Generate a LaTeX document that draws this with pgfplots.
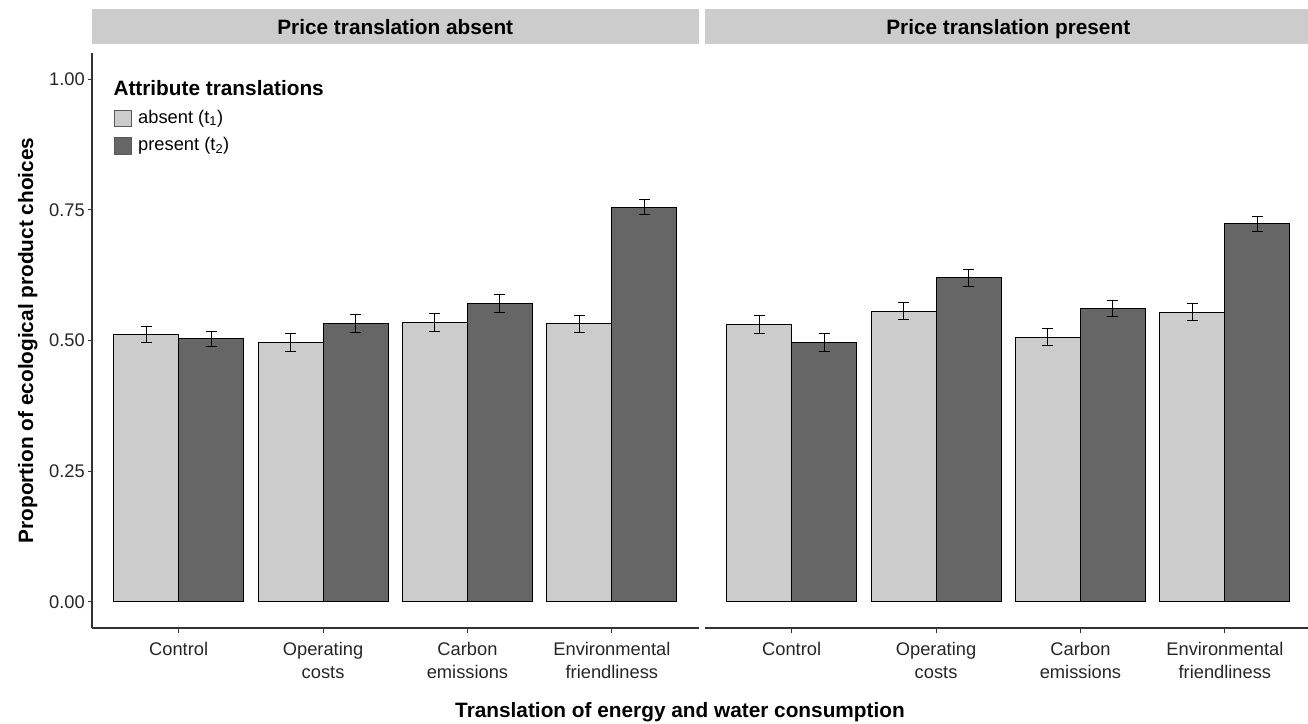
\documentclass[border=0pt]{standalone}
\usepackage{pgfplots}
\pgfplotsset{compat=1.18}
\usepackage{pgfplotstable}
\usepackage{fontspec}
\setmainfont{Liberation Sans}
\definecolor{lightbar}{HTML}{CCCCCC}
\definecolor{darkbar}{HTML}{666666}
\definecolor{ticktext}{HTML}{262626}
\definecolor{stripfill}{HTML}{CCCCCC}
\definecolor{axisline}{HTML}{333333}

% Price translation absent
\pgfplotstableread{
x light lerr dark derr
1 0.512 0.0155 0.503 0.015
2 0.496 0.0170 0.532 0.0175
3 0.534 0.0167 0.571 0.0170
4 0.532 0.0160 0.755 0.0140
}\tabAbsent
% Price translation present
\pgfplotstableread{
x light lerr dark derr
1 0.531 0.0170 0.496 0.0170
2 0.556 0.0165 0.620 0.0160
3 0.506 0.0160 0.561 0.0160
4 0.554 0.0160 0.723 0.0145
}\tabPresent

\newcommand{\tickfont}{\fontsize{18.3}{23}\selectfont}
\newcommand{\titlefont}{\fontsize{20.8}{25}\selectfont\bfseries}
\newcommand{\twoline}[2]{\begin{tabular}[t]{@{}c@{}}#1\\#2\end{tabular}}

\pgfplotsset{
  panel/.style={
    scale only axis, width=606.5pt, height=575pt,
    xmin=0.4, xmax=4.6, ymin=-0.05, ymax=1.05,
    ybar, bar width=0.45,
    axis x line*=bottom,
    axis line style={-, axisline, line width=1.1pt},
    xtick={1,2,3,4},
    xticklabels={Control,{\twoline{Operating}{costs}},{\twoline{Carbon}{emissions}},{\twoline{Environmental}{friendliness}}},
    tick align=outside, major tick length=4.5pt,
    tick style={axisline, line width=1.1pt},
    ticklabel style={font=\tickfont, text=ticktext},
    xticklabel style={anchor=base, inner sep=0pt, yshift=-22.5pt},
    yticklabel style={inner xsep=2.5pt},
    /pgf/number format/assume math mode=true,
    clip=false,
  },
  lightplot/.style={fill=lightbar, draw=black, line width=0.9pt, bar shift=-0.225,
    legend image code/.code={\draw[fill=lightbar, draw=black!65, line width=0.9pt] (0pt,-8.3pt) rectangle (16.6pt,8.3pt);},
    error bars/.cd, y dir=both, y explicit,
    error bar style={black, line width=1pt},
    error mark options={black, rotate=90, mark size=5.5pt, line width=1pt}},
  darkplot/.style={fill=darkbar, draw=black, line width=0.9pt, bar shift=0.225,
    legend image code/.code={\draw[fill=darkbar, draw=black!65, line width=0.9pt] (0pt,-8.3pt) rectangle (16.6pt,8.3pt);},
    error bars/.cd, y dir=both, y explicit,
    error bar style={black, line width=1pt},
    error mark options={black, rotate=90, mark size=5.5pt, line width=1pt}},
}

\begin{document}
\begin{tikzpicture}
\useasboundingbox (0pt,0pt) rectangle (1308pt,723pt);

% facet strips
\fill[stripfill] (92pt,678.7pt) rectangle (698.5pt,713.7pt);
\fill[stripfill] (705pt,678.7pt) rectangle (1311.5pt,713.7pt);
\node[anchor=base, inner sep=0pt, font=\titlefont] at (395.25pt,688.7pt) {Price translation absent};
\node[anchor=base, inner sep=0pt, font=\titlefont] at (1008.25pt,688.7pt) {Price translation present};

\begin{axis}[panel, at={(92pt,95pt)}, anchor=south west,
  axis y line*=left,
  ytick={0,0.25,0.5,0.75,1},
  yticklabels={0.00,0.25,0.50,0.75,1.00},
  legend cell align=left,
  legend style={draw=none, fill=none, inner sep=0pt, outer sep=0pt,
    at={(rel axis cs:0.0363,0.9015)}, anchor=north west,
    row sep=10.2pt, column sep=6.7pt,
    nodes={inner sep=0pt, text height=13.4pt, text depth=3.9pt, font=\tickfont, text=black}},
]
\addplot[lightplot] table[x=x, y=light, y error=lerr] {\tabAbsent};
\addlegendentry{absent (t\textsubscript{1})}
\addplot[darkplot] table[x=x, y=dark, y error=derr] {\tabAbsent};
\addlegendentry{present (t\textsubscript{2})}
\end{axis}

\begin{axis}[panel, at={(705pt,95pt)}, anchor=south west,
  axis y line=none, ytick=\empty]
\addplot[lightplot] table[x=x, y=light, y error=lerr] {\tabPresent};
\addplot[darkplot] table[x=x, y=dark, y error=derr] {\tabPresent};
\end{axis}

% legend title
\node[anchor=base west, inner sep=0pt, font=\titlefont] at (113.3pt,627.3pt) {Attribute translations};

% axis titles
\node[anchor=base, inner sep=0pt, rotate=90, font=\titlefont] at (33pt,382.5pt) {Proportion of ecological product choices};
\node[anchor=base, inner sep=0pt, font=\titlefont] at (680pt,5.7pt) {Translation of energy and water consumption};
\end{tikzpicture}
\end{document}
